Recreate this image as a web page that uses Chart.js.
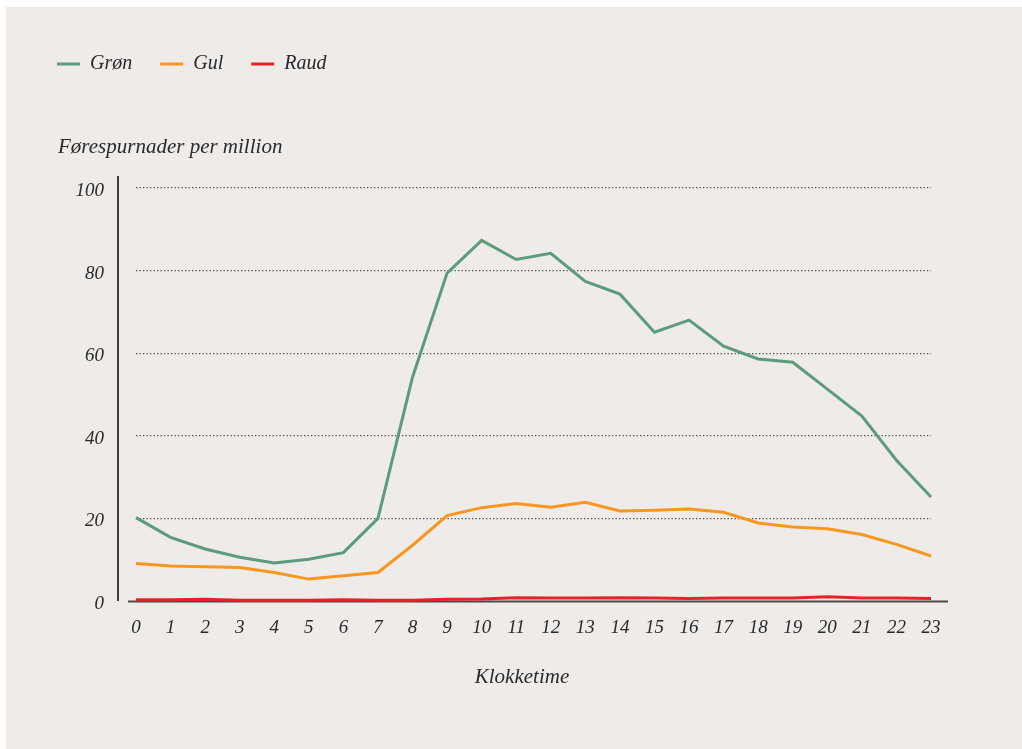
<!DOCTYPE html>
<html>
<head>
<meta charset="utf-8">
<script src="https://cdn.jsdelivr.net/npm/chart.js@4/dist/chart.umd.min.js"></script>
<style>
  html, body { margin: 0; padding: 0; background: #ffffff; }
  #bg { position: absolute; left: 6px; top: 7px; width: 1016px; height: 742px; background: #eeebe9; }
  #wrap { position: absolute; left: 0; top: 0; width: 1022px; height: 749px; }
</style>
</head>
<body>
<div id="bg"></div>
<div id="wrap"><canvas id="c"></canvas></div>
<script>
const hours = ['0','1','2','3','4','5','6','7','8','9','10','11','12','13','14','15','16','17','18','19','20','21','22','23'];
const gronValues = [20.2, 15.4, 12.6, 10.6, 9.2, 10.1, 11.7, 20.0, 54.2, 79.4, 87.3, 82.7, 84.2, 77.4, 74.3, 65.1, 68.0, 61.7, 58.6, 57.8, 51.3, 44.8, 34.1, 25.2];
const gulValues = [9.1, 8.5, 8.3, 8.1, 6.9, 5.3, 6.1, 6.9, 13.5, 20.7, 22.6, 23.6, 22.7, 23.9, 21.8, 22.0, 22.3, 21.5, 18.9, 17.9, 17.5, 16.1, 13.7, 10.9];
const raudValues = [0.3, 0.3, 0.4, 0.2, 0.2, 0.2, 0.3, 0.2, 0.2, 0.4, 0.5, 0.8, 0.7, 0.7, 0.8, 0.7, 0.6, 0.7, 0.7, 0.7, 1.0, 0.7, 0.7, 0.6];
const seriesNames = ['Grøn', 'Gul', 'Raud'];
const yTicks = [0, 20, 40, 60, 80, 100];
const yTitle = 'Førespurnader per million';
const xTitle = 'Klokketime';

const FONT = "'Liberation Serif', 'Times New Roman', serif";
const TEXT = '#2a2a2a';

const legendFit = {
  id: 'legendFit',
  beforeInit(chart) {
    const orig = chart.legend.fit;
    chart.legend.fit = function () { orig.call(this); this.height = 162; };
  }
};

const extras = {
  id: 'extras',
  beforeDatasetsDraw(chart) {
    const { ctx, chartArea: a, scales: { y } } = chart;
    const y0 = y.getPixelForValue(0);
    ctx.save();
    ctx.lineWidth = 2;
    ctx.strokeStyle = '#3c3c3c';
    ctx.beginPath();
    ctx.moveTo(a.left - 18, a.top - 12);
    ctx.lineTo(a.left - 18, y0);
    ctx.stroke();
    ctx.strokeStyle = '#4a4a4a';
    ctx.beginPath();
    ctx.moveTo(a.left - 8, y0 + 0.5);
    ctx.lineTo(a.right + 17, y0 + 0.5);
    ctx.stroke();
    ctx.restore();
  },
  afterDraw(chart) {
    const { ctx } = chart;
    ctx.save();
    ctx.fillStyle = TEXT;
    ctx.font = 'italic 21px ' + FONT;
    ctx.textAlign = 'left';
    ctx.textBaseline = 'alphabetic';
    ctx.fillText(yTitle, 58, 153);
    ctx.textAlign = 'center';
    ctx.fillText(xTitle, 522, 683);
    ctx.restore();
  }
};

new Chart(document.getElementById('c'), {
  type: 'line',
  data: {
    labels: hours,
    datasets: [
      { label: seriesNames[0], data: gronValues, borderColor: '#5c9c7b', backgroundColor: '#5c9c7b', borderWidth: 3 },
      { label: seriesNames[1], data: gulValues, borderColor: '#f7971f', backgroundColor: '#f7971f', borderWidth: 3 },
      { label: seriesNames[2], data: raudValues, borderColor: '#e52228', backgroundColor: '#e52228', borderWidth: 3 }
    ]
  },
  options: {
    responsive: true,
    maintainAspectRatio: false,
    animation: false,
    devicePixelRatio: 1,
    layout: { padding: { top: 26, left: 29, right: 91, bottom: 0 } },
    elements: {
      line: { borderWidth: 3, tension: 0, borderJoinStyle: 'miter' },
      point: { radius: 0, hoverRadius: 0 }
    },
    datasets: { line: { clip: false } },
    plugins: {
      tooltip: { enabled: false },
      legend: {
        position: 'top',
        align: 'start',
        labels: {
          usePointStyle: true,
          pointStyle: 'line',
          pointStyleWidth: 23,
          boxHeight: 3,
          padding: 28,
          color: TEXT,
          font: { family: FONT, size: 20, style: 'italic' }
        }
      }
    },
    scales: {
      x: {
        type: 'category',
        offset: false,
        grid: { display: false, drawTicks: false },
        border: { display: false },
        ticks: {
          autoSkip: false, maxRotation: 0, padding: 16, color: TEXT,
          font: { family: FONT, size: 19, style: 'italic' }
        },
        afterFit(scale) { scale.height = 148; }
      },
      y: {
        min: 0, max: 100,
        afterBuildTicks(scale) { scale.ticks = yTicks.map(v => ({ value: v })); },
        grid: {
          drawTicks: false,
          lineWidth: 1.3,
          color: (c) => (c.tick && c.tick.value === 0) ? 'rgba(0,0,0,0)' : '#4a4a4a'
        },
        border: { display: false, dash: [1.3, 2.2] },
        ticks: {
          padding: 32, labelOffset: 3, color: TEXT,
          font: { family: FONT, size: 19, style: 'italic' }
        },
        afterFit(scale) { scale.width = 107; }
      }
    }
  },
  plugins: [legendFit, extras]
});
</script>
</body>
</html>
